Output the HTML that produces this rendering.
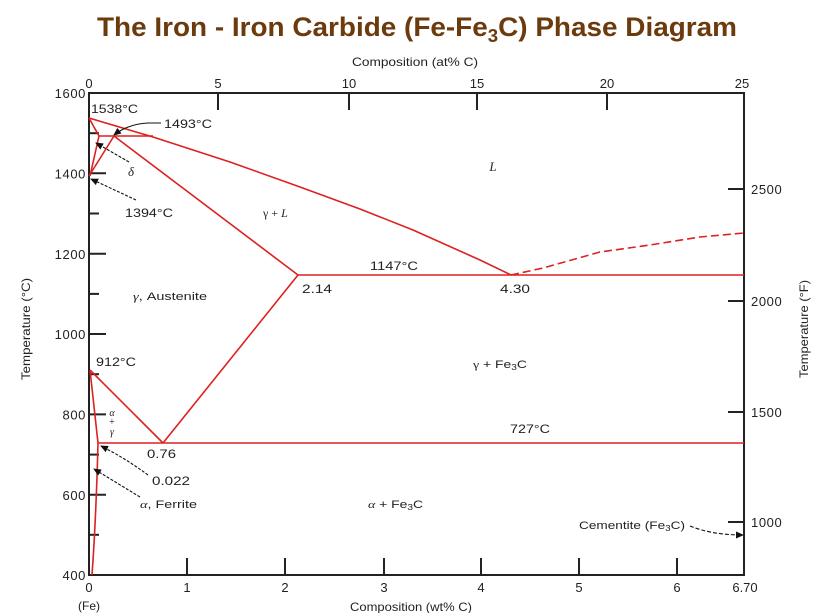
<!DOCTYPE html>
<html>
<head>
<meta charset="utf-8">
<style>
  html, body { margin:0; padding:0; background:#ffffff; }
  svg { display:block; }
  text { font-family: "Liberation Sans", "DejaVu Sans", sans-serif; fill:#222; }
  .tk { font-size:13px; }
  .lb { font-size:12px; }
  .ser { font-family: "Liberation Serif", "DejaVu Serif", serif; }
</style>
</head>
<body>
<svg width="822" height="613" viewBox="0 0 822 613" xmlns="http://www.w3.org/2000/svg">
  <defs>
    <marker id="ah" markerWidth="8" markerHeight="8" refX="7" refY="4" orient="auto" markerUnits="userSpaceOnUse">
      <path d="M0,0.5 L8,4 L0,7.5 Z" fill="#111"/>
    </marker>
  </defs>
  <rect width="822" height="613" fill="#fff"/>

  <!-- Title -->
  <text x="97" y="36" font-size="27" font-weight="bold" style="fill:#6b3a0d" textLength="640" lengthAdjust="spacingAndGlyphs">The Iron - Iron Carbide (Fe-Fe<tspan font-size="18" dy="6">3</tspan><tspan dy="-6">C) Phase Diagram</tspan></text>

  <!-- Axis titles -->
  <text class="lb" x="352" y="66" textLength="126" lengthAdjust="spacingAndGlyphs" font-size="11.5">Composition (at% C)</text>
  <text class="lb" x="350" y="611" textLength="122" lengthAdjust="spacingAndGlyphs">Composition (wt% C)</text>
  <text class="lb" x="89" y="610" text-anchor="middle">(Fe)</text>
  <text class="lb" transform="translate(30,329) rotate(-90)" text-anchor="middle" textLength="102" lengthAdjust="spacingAndGlyphs">Temperature (°C)</text>
  <text class="lb" transform="translate(808,329) rotate(-90)" text-anchor="middle" textLength="98" lengthAdjust="spacingAndGlyphs">Temperature (°F)</text>

  <!-- Frame -->
  <rect x="89" y="93" width="655" height="482" fill="none" stroke="#222" stroke-width="2"/>

  <!-- Left ticks -->
  <g stroke="#222" stroke-width="2">
    <line x1="89" y1="173.3" x2="106" y2="173.3"/>
    <line x1="89" y1="253.7" x2="106" y2="253.7"/>
    <line x1="89" y1="334" x2="106" y2="334"/>
    <line x1="89" y1="414.4" x2="106" y2="414.4"/>
    <line x1="89" y1="494.7" x2="106" y2="494.7"/>
    <line x1="89" y1="133.2" x2="99" y2="133.2"/>
    <line x1="89" y1="213.5" x2="99" y2="213.5"/>
    <line x1="89" y1="293.9" x2="99" y2="293.9"/>
    <line x1="89" y1="374.2" x2="99" y2="374.2"/>
    <line x1="89" y1="454.6" x2="99" y2="454.6"/>
    <line x1="89" y1="534.8" x2="99" y2="534.8"/>
    <!-- right ticks -->
    <line x1="728" y1="189" x2="744" y2="189"/>
    <line x1="728" y1="301" x2="744" y2="301"/>
    <line x1="728" y1="412" x2="744" y2="412"/>
    <line x1="728" y1="522" x2="744" y2="522"/>
    <!-- top ticks -->
    <line x1="218" y1="93" x2="218" y2="110"/>
    <line x1="349" y1="93" x2="349" y2="110"/>
    <line x1="477" y1="93" x2="477" y2="110"/>
    <line x1="607" y1="93" x2="607" y2="110"/>
    <!-- bottom ticks -->
    <line x1="187" y1="558" x2="187" y2="575"/>
    <line x1="285" y1="558" x2="285" y2="575"/>
    <line x1="384" y1="558" x2="384" y2="575"/>
    <line x1="481" y1="558" x2="481" y2="575"/>
    <line x1="579" y1="558" x2="579" y2="575"/>
    <line x1="677" y1="558" x2="677" y2="575"/>
  </g>

  <!-- Left tick labels -->
  <g class="tk" text-anchor="end">
    <text x="86" y="98" letter-spacing="0.6">1600</text>
    <text x="86" y="178.5" letter-spacing="0.6">1400</text>
    <text x="86" y="259" letter-spacing="0.6">1200</text>
    <text x="86" y="339" letter-spacing="0.6">1000</text>
    <text x="86" y="419.5" letter-spacing="0.6">800</text>
    <text x="86" y="500" letter-spacing="0.6">600</text>
    <text x="86" y="580" letter-spacing="0.6">400</text>
  </g>
  <!-- Right tick labels -->
  <g class="tk">
    <text x="751" y="194" letter-spacing="0.6">2500</text>
    <text x="751" y="306" letter-spacing="0.6">2000</text>
    <text x="751" y="417" letter-spacing="0.6">1500</text>
    <text x="751" y="527" letter-spacing="0.6">1000</text>
  </g>
  <!-- Top tick labels -->
  <g class="tk" text-anchor="middle">
    <text x="89" y="88">0</text>
    <text x="218" y="88">5</text>
    <text x="349" y="88">10</text>
    <text x="477" y="88">15</text>
    <text x="607" y="88">20</text>
    <text x="742" y="88">25</text>
  </g>
  <!-- Bottom tick labels -->
  <g class="tk" text-anchor="middle">
    <text x="89" y="592">0</text>
    <text x="187" y="592">1</text>
    <text x="285" y="592">2</text>
    <text x="384" y="592">3</text>
    <text x="481" y="592">4</text>
    <text x="579" y="592">5</text>
    <text x="677" y="592">6</text>
    <text x="745" y="592">6.70</text>
  </g>

  <!-- Phase boundaries (red) -->
  <g stroke="#dd2020" stroke-width="1.6" fill="none" stroke-linejoin="round">
    <polyline points="89,118 153,137 230,162 300,187 360,209 413,230 480,260 511,275"/>
    <polyline points="511,275 543,268 600,252 650,245 700,237 744,233" stroke-dasharray="8,4"/>
    <line x1="298" y1="275" x2="744" y2="275"/>
    <line x1="99" y1="136" x2="153" y2="136"/>
    <line x1="89" y1="118" x2="99" y2="136"/>
    <line x1="99" y1="136" x2="90" y2="176"/>
    <line x1="114" y1="136" x2="89" y2="176"/>
    <line x1="114" y1="136" x2="298" y2="275"/>
    <line x1="298" y1="275" x2="163" y2="443"/>
    <path d="M90,370 Q118,398 163,443"/>
    <line x1="90" y1="370" x2="98" y2="443"/>
    <line x1="98" y1="443" x2="744" y2="443"/>
    <path d="M98,443 Q96,520 92,575"/>
  </g>

  <!-- Leader arrows -->
  <g stroke="#111" stroke-width="1.1" fill="none">
    <path d="M161,123 L148,123 Q128,124 114,135" marker-end="url(#ah)"/>
    <path d="M129,162 L96,143" stroke-dasharray="3,1.5" marker-end="url(#ah)"/>
    <path d="M136,200 L91,179" stroke-dasharray="3,1.5" marker-end="url(#ah)"/>
    <path d="M148,475 Q125,458 101,446" stroke-dasharray="3,1.5" marker-end="url(#ah)"/>
    <path d="M140,497 L94,469" stroke-dasharray="3,1.5" marker-end="url(#ah)"/>
    <path d="M690,526 Q712,535 743,535" stroke-dasharray="4,2" marker-end="url(#ah)"/>
  </g>

  <!-- Labels -->
  <g class="lb">
    <text x="91" y="113" textLength="47" lengthAdjust="spacingAndGlyphs">1538°C</text>
    <text x="164" y="128" textLength="48" lengthAdjust="spacingAndGlyphs">1493°C</text>
    <text x="125" y="217" textLength="48" lengthAdjust="spacingAndGlyphs">1394°C</text>
    <text x="370" y="270" textLength="48" lengthAdjust="spacingAndGlyphs">1147°C</text>
    <text x="302" y="293" textLength="30" lengthAdjust="spacingAndGlyphs">2.14</text>
    <text x="500" y="293" textLength="30" lengthAdjust="spacingAndGlyphs">4.30</text>
    <text x="133" y="300" font-size="11" textLength="74" lengthAdjust="spacingAndGlyphs"><tspan class="ser" font-style="italic">γ</tspan>, Austenite</text>
    <text x="96" y="366" textLength="40" lengthAdjust="spacingAndGlyphs">912°C</text>
    <text x="473" y="368" font-size="11" textLength="54" lengthAdjust="spacingAndGlyphs"><tspan class="ser">γ</tspan> + Fe<tspan font-size="8" dy="2">3</tspan><tspan dy="-2">C</tspan></text>
    <text x="510" y="433" textLength="40" lengthAdjust="spacingAndGlyphs">727°C</text>
    <text x="147" y="458" textLength="29" lengthAdjust="spacingAndGlyphs">0.76</text>
    <text x="152" y="485" textLength="38" lengthAdjust="spacingAndGlyphs">0.022</text>
    <text x="140" y="508" font-size="11" textLength="57" lengthAdjust="spacingAndGlyphs"><tspan class="ser" font-style="italic">α</tspan>, Ferrite</text>
    <text x="368" y="508" font-size="11" textLength="55" lengthAdjust="spacingAndGlyphs"><tspan class="ser" font-style="italic">α</tspan> + Fe<tspan font-size="8" dy="2">3</tspan><tspan dy="-2">C</tspan></text>
    <text x="579" y="529" font-size="11" textLength="106" lengthAdjust="spacingAndGlyphs">Cementite (Fe<tspan font-size="8" dy="2">3</tspan><tspan dy="-2">C)</tspan></text>
  </g>
  <g class="ser" font-size="13" font-style="italic">
    <text x="131" y="176" text-anchor="middle" class="ser">δ</text>
    <text x="493" y="171" text-anchor="middle" class="ser">L</text>
    <text x="263" y="217" class="ser" font-size="12" font-style="normal">γ + <tspan font-style="italic">L</tspan></text>
  </g>
  <g class="ser" font-size="10" font-style="italic" text-anchor="middle">
    <text x="112" y="416" class="ser">α</text>
    <text x="112" y="425" class="ser" font-style="normal">+</text>
    <text x="112" y="435" class="ser">γ</text>
  </g>
</svg>
</body>
</html>
